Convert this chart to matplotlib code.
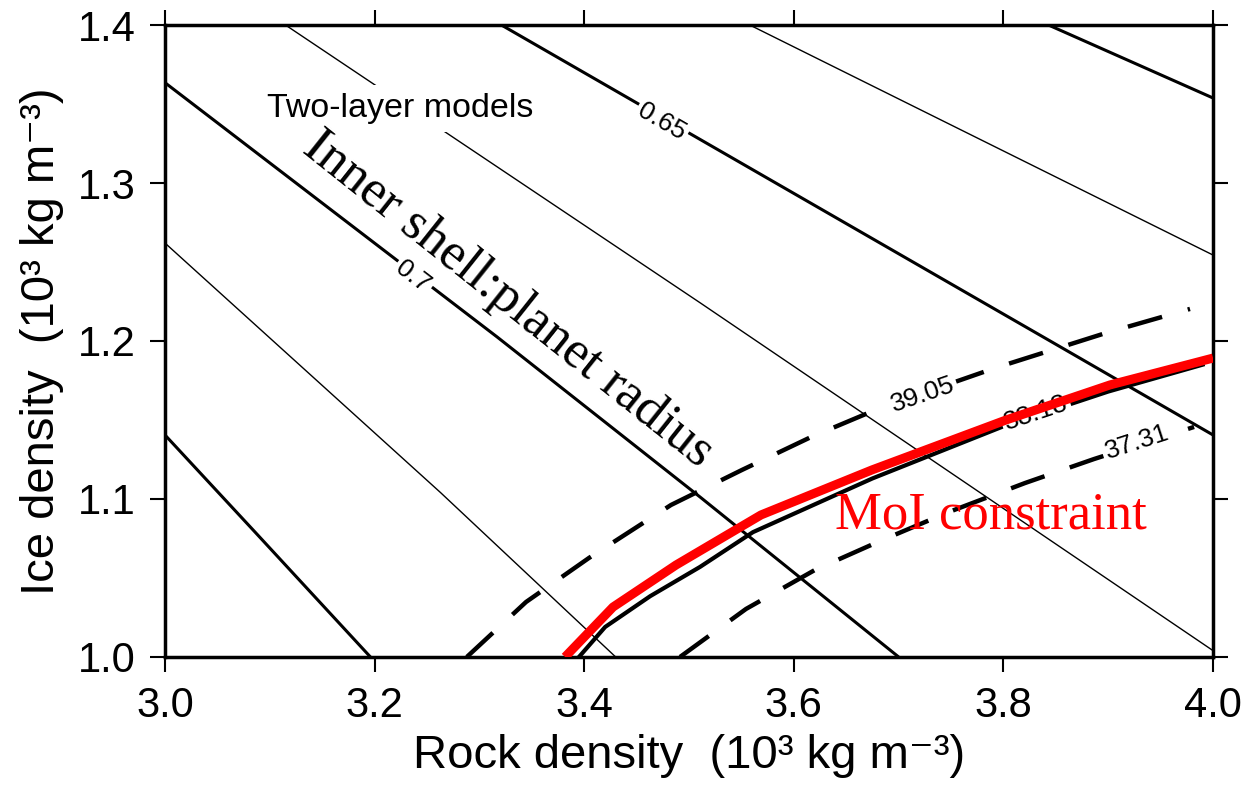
import matplotlib
matplotlib.use("Agg")
import matplotlib.pyplot as plt

SANS = ["Liberation Sans", "DejaVu Sans"]
SERIF = ["Liberation Serif", "DejaVu Serif"]

# inner shell : planet radius contours
ratio_values = [0.75, 0.725, 0.70, 0.675, 0.65, 0.625, 0.60]
ratio_thick = [True, False, True, False, True, False, True]
ratio_x = [
    [3.0, 3.086, 3.196],
    [3.0, 3.263, 3.43],
    [3.0, 3.317, 3.511, 3.70],
    [3.115, 3.511, 4.0],
    [3.321, 3.843, 4.0],
    [3.558, 4.0],
    [3.843, 4.0],
]
ratio_y = [
    [1.1405, 1.079, 1.0],
    [1.262, 1.104, 1.0],
    [1.3635, 1.2025, 1.101, 1.0],
    [1.4, 1.224, 1.004],
    [1.4, 1.2006, 1.1405],
    [1.4, 1.2544],
    [1.4, 1.3538],
]

# dashed contours
dash_39_x = [3.288, 3.3445, 3.4046, 3.4828, 3.5506, 3.6164, 3.6823, 3.792, 3.8979, 3.978]
dash_39_y = [1.0, 1.0348, 1.0627, 1.0962, 1.1184, 1.1392, 1.1576, 1.1829, 1.2051, 1.2203]
dash_37_x = [3.4914, 3.5544, 3.6202, 3.6823, 3.7481, 3.8206, 3.8865, 3.9819]
dash_37_y = [1.0, 1.0304, 1.0551, 1.0734, 1.0918, 1.1101, 1.1253, 1.1456]
line_38_x = [3.395, 3.42, 3.463, 3.5105, 3.561, 3.675, 3.80, 3.90, 3.99]
line_38_y = [1.0, 1.019, 1.0385, 1.057, 1.079, 1.113, 1.146, 1.168, 1.185]

# MoI constraint (red)
moi_x = [3.3817, 3.4275, 3.4876, 3.5687, 3.6746, 3.8025, 3.9017, 4.0]
moi_y = [1.0, 1.0316, 1.0582, 1.0899, 1.1184, 1.15, 1.1722, 1.1892]

xticks = [3.0, 3.2, 3.4, 3.6, 3.8, 4.0]
yticks = [1.0, 1.1, 1.2, 1.3, 1.4]

fig = plt.figure(figsize=(12.48, 7.92), dpi=100)
ax = fig.add_axes([0.1322, 0.1705, 0.972 - 0.1322, 0.9684 - 0.1705])

for xs, ys, thick in zip(ratio_x, ratio_y, ratio_thick):
    ax.plot(xs, ys, color="black", lw=2.2 if thick else 1.0, solid_capstyle="butt", zorder=2)

for xs, ys in [(dash_39_x, dash_39_y), (dash_37_x, dash_37_y)]:
    ax.plot(xs, ys, color="black", lw=3.2, linestyle=(0, (8, 6)), dash_capstyle="butt", zorder=2)
ax.plot(line_38_x, line_38_y, color="black", lw=3.0, zorder=2)

ax.plot(moi_x, moi_y, color="#ff0000", lw=6.5, solid_capstyle="butt", zorder=5)

white = dict(facecolor="white", edgecolor="none", pad=2)
lab_kw = dict(family=SANS, fontsize=19, ha="center", va="center",
              rotation_mode="anchor", bbox=white, zorder=3)
ax.text(3.2366, 1.2405, "0.7", rotation=-37.5, **lab_kw)
ax.text(3.474, 1.3386, "0.65", rotation=-30, **lab_kw)
ax.text(3.723, 1.166, "39.05", rotation=19, **lab_kw)
ax.text(3.831, 1.1544, "38.18", rotation=18.5, **lab_kw)
ax.text(3.928, 1.136, "37.31", rotation=18, **lab_kw)

ax.text(3.097, 1.3418, "Two-layer models", family=SANS, fontsize=24.5,
        ha="left", va="baseline", zorder=3,
        bbox=dict(facecolor="white", edgecolor="none", pad=6))
ax.text(3.327, 1.226, "Inner shell:planet radius", family=SERIF, fontsize=38,
        rotation=-38.5, rotation_mode="anchor", ha="center", va="center", zorder=4)
ax.text(3.639, 1.081, "MoI constraint", family=SERIF, fontsize=38, color="#ff0000",
        ha="left", va="baseline", zorder=6)

ax.set_xlim(3.0, 4.0)
ax.set_ylim(1.0, 1.4)
ax.set_xticks(xticks)
ax.set_yticks(yticks)
ax.set_xticklabels([f"{v:.1f}" for v in xticks], family=SANS)
ax.set_yticklabels([f"{v:.1f}" for v in yticks], family=SANS)
ax.tick_params(direction="out", length=11, width=1.5, top=True, right=True,
               labelsize=30, pad=10)
for s in ax.spines.values():
    s.set_linewidth(2.5)

ax.set_xlabel("Rock density  (10³ kg m⁻³)", family=SANS, fontsize=34, labelpad=6)
ax.set_ylabel("Ice density  (10³ kg m⁻³)", family=SANS, fontsize=34, labelpad=10)

fig.savefig("out.png", dpi=100)
